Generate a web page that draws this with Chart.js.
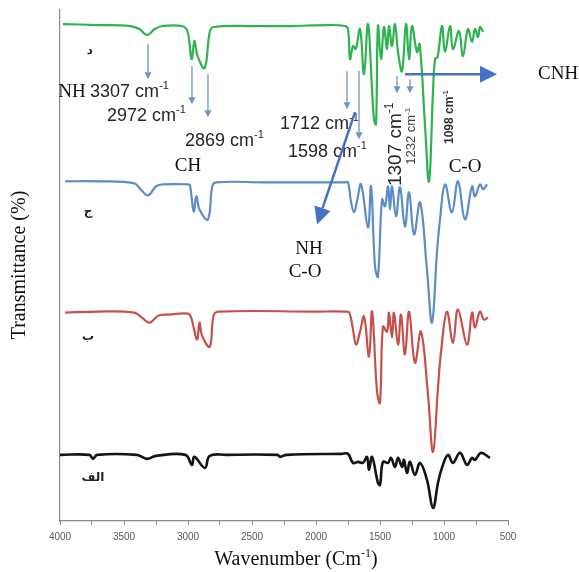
<!DOCTYPE html>
<html>
<head>
<meta charset="utf-8">
<script src="https://cdn.jsdelivr.net/npm/chart.js@4.4.0/dist/chart.umd.min.js"></script>
<style>
  html, body { margin: 0; padding: 0; background: #fff; }
</style>
</head>
<body>
<canvas id="ftir" width="579" height="572"></canvas>
<script>
// --- Spectra (wavenumber in cm-1, transmittance offset per trace) ---
// د (top, green)
const wnD = [3977, 3700, 3450, 3380, 3320, 3260, 3200, 3050, 3005, 2972,
             2950, 2925, 2870, 2830, 2800, 2500, 2200, 1900, 1775, 1750,
             1734, 1711, 1690, 1656, 1625, 1594, 1562, 1547, 1531, 1516,
             1492, 1469, 1445, 1430, 1406, 1383, 1359, 1328, 1297, 1273,
             1250, 1211, 1190, 1148, 1117, 1086, 1070, 1050, 1016, 992,
             953, 930, 883, 852, 813, 781, 758, 734, 719, 695];
const tD  = [99.2, 99.0, 98.8, 98.2, 97.0, 98.2, 98.8, 98.8, 97.8, 92.2,
             95.8, 92.8, 90.4, 97.6, 98.6, 98.8, 98.8, 99.0, 98.8, 98.2,
             92.2, 94.8, 94.2, 98.2, 89.2, 99.2, 86.2, 80.2, 79.2, 98.8,
             92.2, 98.6, 94.2, 98.8, 94.8, 99.2, 93.6, 89.8, 99.2, 92.2,
             98.8, 93.6, 95.2, 78.8, 67.8, 85.6, 92.2, 92.6, 98.8, 93.6,
             98.8, 94.2, 97.8, 92.8, 98.2, 95.6, 98.2, 96.6, 98.6, 97.6];

// ج (blue)
const wnJ = [3960, 3700, 3420, 3370, 3313, 3250, 3200, 3000, 2985, 2955,
             2935, 2910, 2845, 2810, 2780, 2400, 2000, 1775, 1750, 1727,
             1703, 1680, 1648, 1594, 1570, 1539, 1516, 1484, 1461, 1437,
             1422, 1406, 1375, 1344, 1305, 1273, 1234, 1187, 1133, 1094,
             1055, 1031, 992, 938, 891, 836, 781, 758, 719, 695, 664];
const tJ  = [67.8, 67.8, 67.4, 66.2, 65.0, 66.8, 67.2, 67.2, 67.0, 61.8,
             64.8, 62.2, 60.2, 66.8, 67.6, 67.6, 67.6, 67.6, 67.6, 63.8,
             61.6, 63.8, 67.2, 58.6, 66.8, 50.8, 48.8, 64.2, 62.8, 66.8,
             62.2, 66.8, 60.8, 66.6, 58.8, 65.6, 57.2, 63.6, 50.2, 39.6,
             53.6, 60.2, 67.2, 61.6, 67.8, 60.2, 66.8, 64.8, 67.2, 66.2, 67.2];

// ب (red)
const wnB = [3960, 3700, 3420, 3360, 3300, 3230, 3150, 3000, 2975, 2930,
             2910, 2890, 2830, 2800, 2760, 2000, 1775, 1740, 1711, 1687,
             1656, 1625, 1586, 1562, 1523, 1500, 1477, 1445, 1430, 1406,
             1391, 1359, 1336, 1305, 1273, 1227, 1180, 1125, 1086, 1047,
             1023, 977, 930, 891, 820, 781, 758, 719, 688, 656];
const tB  = [41.6, 41.8, 41.6, 40.6, 39.6, 41.0, 41.2, 41.4, 40.6, 36.2,
             39.6, 37.0, 34.8, 41.0, 41.8, 41.8, 41.8, 41.6, 38.2, 35.2,
             37.8, 40.8, 32.8, 41.8, 25.8, 23.6, 38.8, 37.8, 41.6, 36.6,
             41.6, 35.2, 41.2, 33.2, 41.8, 31.6, 37.8, 25.2, 13.8, 26.6,
             33.8, 41.8, 35.6, 42.2, 35.2, 41.6, 38.6, 41.8, 40.2, 40.6];

// الف (bottom, black)
const wnA = [4000, 3770, 3742, 3710, 3400, 3320, 3250, 3020, 2970, 2950,
             2868, 2830, 2700, 2300, 2281, 2230, 1800, 1750, 1711, 1672,
             1633, 1602, 1586, 1562, 1516, 1500, 1477, 1437, 1414, 1383,
             1359, 1328, 1313, 1289, 1266, 1227, 1187, 1133, 1086, 1047,
             1016, 969, 930, 875, 820, 781, 758, 711, 641];
const tA  = [13.2, 13.2, 12.4, 13.2, 13.2, 12.4, 13.0, 13.2, 11.2, 12.8,
             10.6, 13.0, 13.2, 13.2, 12.8, 13.2, 13.4, 13.4, 11.6, 11.8,
             11.6, 12.8, 10.2, 12.8, 7.6, 7.2, 11.8, 11.6, 12.6, 10.8,
             12.6, 10.8, 12.2, 9.6, 11.8, 9.2, 11.6, 8.2, 2.6, 7.6,
             10.6, 13.2, 11.6, 13.6, 11.2, 12.6, 12.2, 13.6, 12.6];

// axis
const xMin = 500, xMax = 4000, xStep = 250, xLabelStep = 500;

// trace names (Arabic letters) and their spots
const traceNames = ["د", "ج", "ب", "الف"];
const traceNameWn = [3766, 3781, 3781, 3742];
const traceNameT  = [93.8, 61.8, 36.8, 8.6];

// peak labels (cm-1)
const peakNums = ["3307", "2972", "2869", "1712", "1598"];
const peakWn   = [3766, 3633, 3023, 2281, 2219];
const peakT    = [85.6, 80.8, 75.8, 79.2, 73.6];

// thin arrows: [wn, tFrom, tTo]
const thinArrows = [[3313, 95.2, 88.2], [2969, 90.8, 83.2], [2844, 89.2, 80.6],
                    [1758, 89.8, 82.2], [1664, 89.8, 76.2], [1367, 88.8, 85.4], [1266, 88.2, 85.4]];

// group labels
const groupText = ["NH", "CH", "C-O", "CNH", "NH", "C-O"];
const groupWn   = [3906, 3000, 836, 109, 2055, 2086];
const groupT    = [85.6, 70.8, 70.6, 89.2, 54.2, 49.6];

const serif = '"Liberation Serif", "Times New Roman", serif';
const sans = '"Liberation Sans", Arial, sans-serif';

function series(wn, t) {
  return wn.map((w, i) => ({ x: w, y: t[i] }));
}

function arrow(ctx, x1, y1, x2, y2, w, head, color) {
  const a = Math.atan2(y2 - y1, x2 - x1);
  const c = Math.cos(a), s = Math.sin(a);
  ctx.save();
  ctx.strokeStyle = color;
  ctx.fillStyle = color;
  ctx.lineWidth = w;
  ctx.beginPath();
  ctx.moveTo(x1, y1);
  ctx.lineTo(x2 - head * c, y2 - head * s);
  ctx.stroke();
  ctx.beginPath();
  ctx.moveTo(x2, y2);
  ctx.lineTo(x2 - head * c + head * 0.5 * s, y2 - head * s - head * 0.5 * c);
  ctx.lineTo(x2 - head * c - head * 0.5 * s, y2 - head * s + head * 0.5 * c);
  ctx.closePath();
  ctx.fill();
  ctx.restore();
}

// text with superscript "-1"
function supText(ctx, main, x, y, size, font, opts = {}) {
  const supSize = Math.round(size * 0.62);
  ctx.save();
  ctx.translate(x, y);
  if (opts.angle) ctx.rotate(opts.angle);
  ctx.fillStyle = opts.color || "#262626";
  ctx.textBaseline = "middle";
  ctx.textAlign = "left";
  ctx.font = (opts.bold ? "bold " : "") + size + "px " + font;
  const w1 = ctx.measureText(main).width;
  ctx.font = (opts.bold ? "bold " : "") + supSize + "px " + font;
  const w2 = ctx.measureText("-1").width;
  let w3 = 0;
  if (opts.tail) {
    ctx.font = size + "px " + font;
    w3 = ctx.measureText(opts.tail).width;
  }
  const x0 = opts.center ? -(w1 + w2 + w3) / 2 : 0;
  ctx.font = (opts.bold ? "bold " : "") + size + "px " + font;
  ctx.fillText(main, x0, 0);
  ctx.font = (opts.bold ? "bold " : "") + supSize + "px " + font;
  ctx.fillText("-1", x0 + w1, -size * 0.33);
  if (opts.tail) {
    ctx.font = size + "px " + font;
    ctx.fillText(opts.tail, x0 + w1 + w2, 0);
  }
  ctx.restore();
}

const annotate = {
  id: "annotate",
  afterDraw(chart) {
    const { ctx, scales: { x, y } } = chart;
    const X = v => x.getPixelForValue(v);
    const Y = v => y.getPixelForValue(v);

    // trace names
    ctx.save();
    ctx.fillStyle = "#222";
    ctx.font = 'bold 12px "DejaVu Sans", sans-serif';
    ctx.textAlign = "center";
    ctx.textBaseline = "middle";
    traceNames.forEach((n, i) => ctx.fillText(n, X(traceNameWn[i]), Y(traceNameT[i])));
    ctx.restore();

    // thin arrows
    thinArrows.forEach(a => arrow(ctx, X(a[0]), Y(a[1]), X(a[0]), Y(a[2]), 1.3, 7, "#6f93c9"));

    // peak labels
    peakNums.forEach((n, i) => supText(ctx, n + " cm", X(peakWn[i]), Y(peakT[i]), 18, sans));
    supText(ctx, "1307 cm", X(1375), Y(75.2), 19, sans, { angle: -Math.PI / 2, center: true });
    supText(ctx, "1232 cm", X(1252), Y(76.8), 13, sans, { angle: -Math.PI / 2, center: true, color: "#444" });
    supText(ctx, "1098 cm", X(953), Y(80.6), 12, sans, { angle: -Math.PI / 2, center: true, bold: true, color: "#333" });

    // thick arrows
    arrow(ctx, X(1695), Y(81.6), X(1992), Y(59.2), 2.5, 17, "#4472c4");
    arrow(ctx, X(1305), Y(89.2), X(586), Y(89.2), 2.5, 17, "#4472c4");

    // group labels
    ctx.save();
    ctx.fillStyle = "#111";
    ctx.font = "19px " + serif;
    ctx.textAlign = "center";
    ctx.textBaseline = "middle";
    groupText.forEach((g, i) => ctx.fillText(g, X(groupWn[i]), Y(groupT[i])));
    ctx.restore();

    // axis titles
    ctx.save();
    ctx.fillStyle = "#111";
    ctx.font = "20px " + serif;
    ctx.textAlign = "center";
    ctx.textBaseline = "middle";
    ctx.translate(20, 265);
    ctx.rotate(-Math.PI / 2);
    ctx.fillText("Transmittance (%)", 0, 0);
    ctx.restore();
    supText(ctx, "Wavenumber (Cm", 296, 560, 20, serif, { center: true, tail: ")", color: "#111" });
  }
};

new Chart(document.getElementById("ftir"), {
  type: "line",
  data: {
    datasets: [
      { data: series(wnD, tD), borderColor: "#2fb34f", borderWidth: 2.2 },
      { data: series(wnJ, tJ), borderColor: "#5b8cc8", borderWidth: 2.2 },
      { data: series(wnB, tB), borderColor: "#c8504c", borderWidth: 2.2 },
      { data: series(wnA, tA), borderColor: "#141414", borderWidth: 2.6 }
    ]
  },
  options: {
    responsive: false,
    animation: false,
    layout: { padding: { left: 60, right: 71, top: 10, bottom: 23 } },
    elements: {
      point: { radius: 0 },
      line: { tension: 0.4, fill: false, borderJoinStyle: "round" }
    },
    plugins: { legend: { display: false }, tooltip: { enabled: false } },
    scales: {
      x: {
        type: "linear",
        min: xMin,
        max: xMax,
        reverse: true,
        ticks: {
          stepSize: xStep,
          autoSkip: false,
          maxRotation: 0,
          color: "#595959",
          font: { size: 10, family: sans },
          padding: 6,
          callback: v => (v % xLabelStep === 0 ? String(v) : "")
        },
        grid: { display: true, drawOnChartArea: false, drawTicks: true, tickLength: 4, color: "#8c8c8c" },
        border: { display: true, color: "#8c8c8c", width: 1.2 }
      },
      y: {
        min: 0,
        max: 102,
        ticks: { display: false },
        grid: { display: false, drawTicks: false },
        border: { display: true, color: "#8c8c8c", width: 1.2 }
      }
    }
  },
  plugins: [annotate]
});
</script>
</body>
</html>
